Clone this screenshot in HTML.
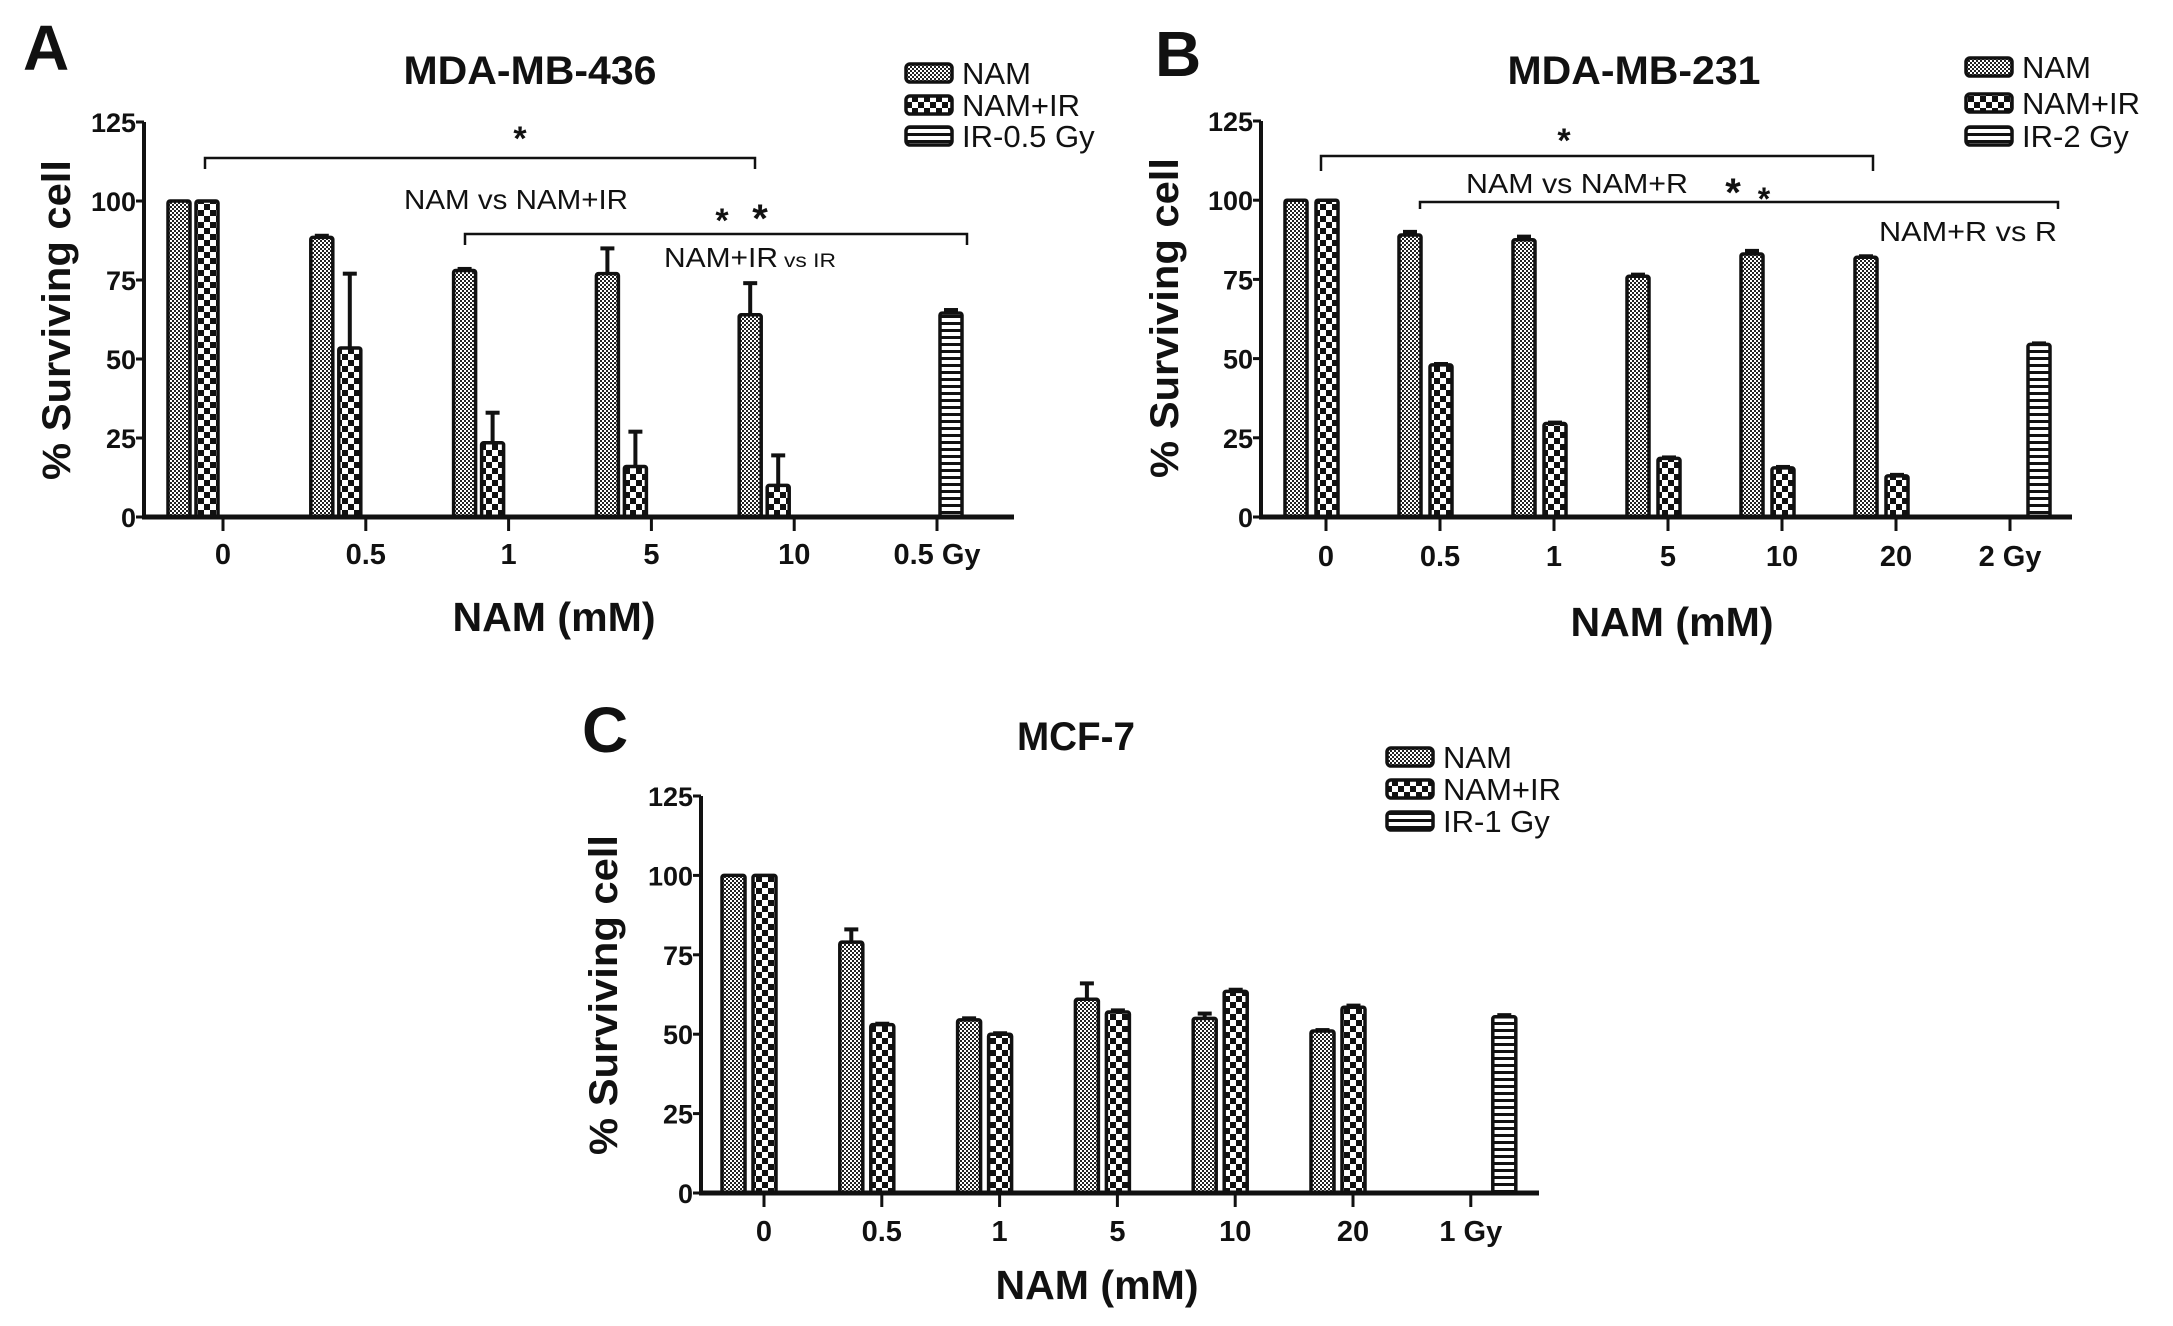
<!DOCTYPE html>
<html><head><meta charset="utf-8"><style>
html,body{margin:0;padding:0;background:#fff;}
svg{display:block;}
text{font-family:"Liberation Sans",Arial,sans-serif;fill:#111;}
</style></head><body>
<svg id="fig" width="2173" height="1326" viewBox="0 0 2173 1326" xmlns="http://www.w3.org/2000/svg">
<defs>
<pattern id="pNam" width="4" height="4" patternUnits="userSpaceOnUse">
<rect width="4" height="4" fill="#fff"/><rect width="2" height="2" fill="#222"/><rect x="2" y="2" width="2" height="2" fill="#222"/>
</pattern>
<pattern id="pNamIr" width="12" height="12" patternUnits="userSpaceOnUse">
<rect width="12" height="12" fill="#fff"/><rect width="6" height="6" fill="#111"/><rect x="6" y="6" width="6" height="6" fill="#111"/>
</pattern>
<pattern id="pIr" width="8" height="7" patternUnits="userSpaceOnUse">
<rect width="8" height="7" fill="#fff"/><rect y="0" width="8" height="3" fill="#111"/>
</pattern>
</defs>
</svg>
<script>
// ---------- Data ----------
const yTicks = [0, 25, 50, 75, 100, 125];

const catsA = ["0", "0.5", "1", "5", "10", "0.5 Gy"];
const namA = [100, 88.5, 78, 77, 64, null];
const namErrA = [0, 0.5, 0.5, 8, 10, null];
const namIrA = [100, 53.5, 23.5, 16, 10, null];
const namIrErrA = [0, 23.5, 9.5, 11, 9.5, null];
const irA = [null, null, null, null, null, 64.5];
const irErrA = [null, null, null, null, null, 1];

const catsB = ["0", "0.5", "1", "5", "10", "20", "2 Gy"];
const namB = [100, 89, 87.5, 76, 83, 82, null];
const namErrB = [0, 1, 1, 0.5, 1, 0.3, null];
const namIrB = [100, 48, 29.5, 18.5, 15.5, 13, null];
const namIrErrB = [0, 0.3, 0.3, 0.3, 0.3, 0.3, null];
const irB = [null, null, null, null, null, null, 54.5];
const irErrB = [null, null, null, null, null, null, 0.3];

const catsC = ["0", "0.5", "1", "5", "10", "20", "1 Gy"];
const namC = [100, 79, 54.5, 61, 55, 51, null];
const namErrC = [0, 4, 0.5, 5, 1.5, 0.3, null];
const namIrC = [100, 53, 50, 57, 63.5, 58.5, null];
const namIrErrC = [0, 0.3, 0.3, 0.5, 0.5, 0.5, null];
const irC = [null, null, null, null, null, null, 55.5];
const irErrC = [null, null, null, null, null, null, 0.5];

// ---------- Helpers ----------
const NS = "http://www.w3.org/2000/svg";
const svg = document.getElementById("fig");
function el(tag, attrs, parent) {
  const e = document.createElementNS(NS, tag);
  for (const k in attrs) e.setAttribute(k, attrs[k]);
  (parent || svg).appendChild(e);
  return e;
}
function txt(parent, x, y, s, size, weight, anchor, len, name) {
  const t = el("text", {x: x, y: y, "font-size": size, "font-weight": weight, "text-anchor": anchor}, parent);
  if (len) { t.setAttribute("textLength", len); t.setAttribute("lengthAdjust", "spacingAndGlyphs"); }
  t.textContent = s;
  
  
  return t;
}

function panel(cfg, cats, nam, namErr, namIr, namIrErr, ir, irErr) {
  const g = el("g", {});
  
  
  const yScale = v => cfg.y0 - (v / 125) * (cfg.y0 - cfg.yTop);
  const xTick = i => cfg.tick0 + i * cfg.step;

  const series = [
    {vals: nam, errs: namErr, fill: "url(#pNam)", off: cfg.offs[0], name: "bar-nam"},
    {vals: namIr, errs: namIrErr, fill: "url(#pNamIr)", off: cfg.offs[1], name: "bar-nam-ir"},
    {vals: ir, errs: irErr, fill: "url(#pIr)", off: cfg.offs[2], name: "bar-ir"}
  ];
  series.forEach(s => {
    s.vals.forEach((v, i) => {
      if (v === null || v === undefined) return;
      const x = xTick(i) + s.off;
      const yt = yScale(v);
      const e = s.errs[i] || 0;
      if (e > 0.2) {
        const ey = yScale(v + e);
        const l = el("line", {x1: x + cfg.bw / 2, x2: x + cfg.bw / 2, y1: yt, y2: ey, stroke: "#111", "stroke-width": 4}, g);
        
        
        const c = el("line", {x1: x + cfg.bw / 2 - 7, x2: x + cfg.bw / 2 + 7, y1: ey, y2: ey, stroke: "#111", "stroke-width": 4}, g);
        
        
      }
      const r = el("rect", {x: x, y: yt, width: cfg.bw, height: cfg.y0 - yt, fill: s.fill, stroke: "#111", "stroke-width": 3.5, rx: 2}, g);
      
      
    });
  });

  const ya = el("line", {x1: cfg.x0, x2: cfg.x0, y1: cfg.yTop, y2: cfg.y0 + 2, stroke: "#111", "stroke-width": 4}, g);
  
  
  const xa = el("line", {x1: cfg.x0 - 2, x2: cfg.xEnd, y1: cfg.y0, y2: cfg.y0, stroke: "#111", "stroke-width": 5}, g);
  
  

  yTicks.forEach(v => {
    const y = yScale(v);
    const tl = el("line", {x1: cfg.x0 - 8, x2: cfg.x0, y1: y, y2: y, stroke: "#111", "stroke-width": 3}, g);
    
    
    txt(g, cfg.x0 - 8, y + 10, String(v), 27, "bold", "end", null, "y-tick-label");
  });
  cats.forEach((c, i) => {
    const x = xTick(i);
    const tl = el("line", {x1: x, x2: x, y1: cfg.y0, y2: cfg.y0 + 14, stroke: "#111", "stroke-width": 3}, g);
    
    
    txt(g, x, cfg.xLabY, c, 29, "bold", "middle", null, "x-tick-label");
  });

  txt(g, cfg.titleX, cfg.titleY, cfg.title, 40, "bold", "middle", cfg.titleLen, "chart-title");
  txt(g, cfg.letterX, cfg.letterY, cfg.letter, 64, "bold", "start", null, "panel-letter");
  txt(g, cfg.xTitleX, cfg.xTitleY, "NAM (mM)", 41, "bold", "middle", 203, "x-axis-title");
  const yt = txt(g, 0, 0, "% Surviving cell", 40, "bold", "middle", 320, "y-axis-title");
  yt.setAttribute("transform", "translate(" + cfg.yTitleX + "," + cfg.yTitleY + ") rotate(-90)");

  const lg = el("g", {}, g);
  
  
  const fills = ["url(#pNam)", "url(#pNamIr)", "url(#pIr)"];
  cfg.legend.forEach((lab, k) => {
    const cy = cfg.legY[k];
    const r = el("rect", {x: cfg.legX, y: cy - 9, width: 46, height: 18, fill: fills[k], stroke: "#111", "stroke-width": 3.5, rx: 4}, lg);
    
    
    txt(lg, cfg.legX + 56, cy + 11, lab, 31, "normal", "start", null, "legend-entry");
  });
  return g;
}

function bracket(x1, x2, y, drop, name) {
  const p = el("path", {d: "M" + x1 + "," + (y + drop) + " L" + x1 + "," + y + " L" + x2 + "," + y + " L" + x2 + "," + (y + drop), fill: "none", stroke: "#111", "stroke-width": 2.5});
  
  
}

panel({name: "panel-a", x0: 144, y0: 517, yTop: 122, xEnd: 1014, tick0: 223, step: 142.8, offs: [-55, -27, 3], bw: 22,
  xLabY: 564, title: "MDA-MB-436", titleX: 530, titleY: 84, titleLen: 253, letter: "A", letterX: 23, letterY: 70,
  xTitleX: 554, xTitleY: 631, yTitleX: 70, yTitleY: 320, legend: ["NAM", "NAM+IR", "IR-0.5 Gy"], legX: 906, legY: [73, 105, 136]},
  catsA, namA, namErrA, namIrA, namIrErrA, irA, irErrA);

panel({name: "panel-b", x0: 1261, y0: 517, yTop: 121, xEnd: 2072, tick0: 1326, step: 114, offs: [-41, -10, 18], bw: 22,
  xLabY: 566, title: "MDA-MB-231", titleX: 1634, titleY: 84, titleLen: 253, letter: "B", letterX: 1155, letterY: 76,
  xTitleX: 1672, xTitleY: 636, yTitleX: 1178, yTitleY: 318, legend: ["NAM", "NAM+IR", "IR-2 Gy"], legX: 1966, legY: [67, 103, 136]},
  catsB, namB, namErrB, namIrB, namIrErrB, irB, irErrB);

panel({name: "panel-c", x0: 701, y0: 1193, yTop: 796, xEnd: 1539, tick0: 764, step: 117.8, offs: [-42, -11, 22], bw: 23,
  xLabY: 1241, title: "MCF-7", titleX: 1076, titleY: 750, titleLen: 118, letter: "C", letterX: 582, letterY: 752,
  xTitleX: 1097, xTitleY: 1299, yTitleX: 617, yTitleY: 995, legend: ["NAM", "NAM+IR", "IR-1 Gy"], legX: 1387, legY: [757, 789, 821]},
  catsC, namC, namErrC, namIrC, namIrErrC, irC, irErrC);

bracket(205, 755, 158, 11, "bracket-nam-vs-namir");
txt(svg, 520, 150, "*", 34, "bold", "middle", null, "significance-star");
txt(svg, 516, 209, "NAM vs NAM+IR", 28, "normal", "middle", 224, "comparison-label");
bracket(465, 967, 234, 11, "bracket-namir-vs-ir");
txt(svg, 722, 232, "*", 34, "bold", "middle", null, "significance-star");
txt(svg, 760, 232, "*", 40, "bold", "middle", null, "significance-star");
txt(svg, 664, 267, "NAM+IR", 28, "normal", "start", 114, "comparison-label");
txt(svg, 784, 267, "vs IR", 19, "normal", "start", 52, "comparison-label");

bracket(1321, 1873, 156, 15, "bracket-nam-vs-namr");
txt(svg, 1564, 152, "*", 34, "bold", "middle", null, "significance-star");
txt(svg, 1577, 193, "NAM vs NAM+R", 28, "normal", "middle", 222, "comparison-label");
bracket(1420, 2058, 202, 7, "bracket-namr-vs-r");
txt(svg, 1733, 206, "*", 40, "bold", "middle", null, "significance-star");
txt(svg, 1764, 210, "*", 32, "bold", "middle", null, "significance-star");
txt(svg, 2057, 241, "NAM+R vs R", 28, "normal", "end", 178, "comparison-label");
</script>
</body></html>
